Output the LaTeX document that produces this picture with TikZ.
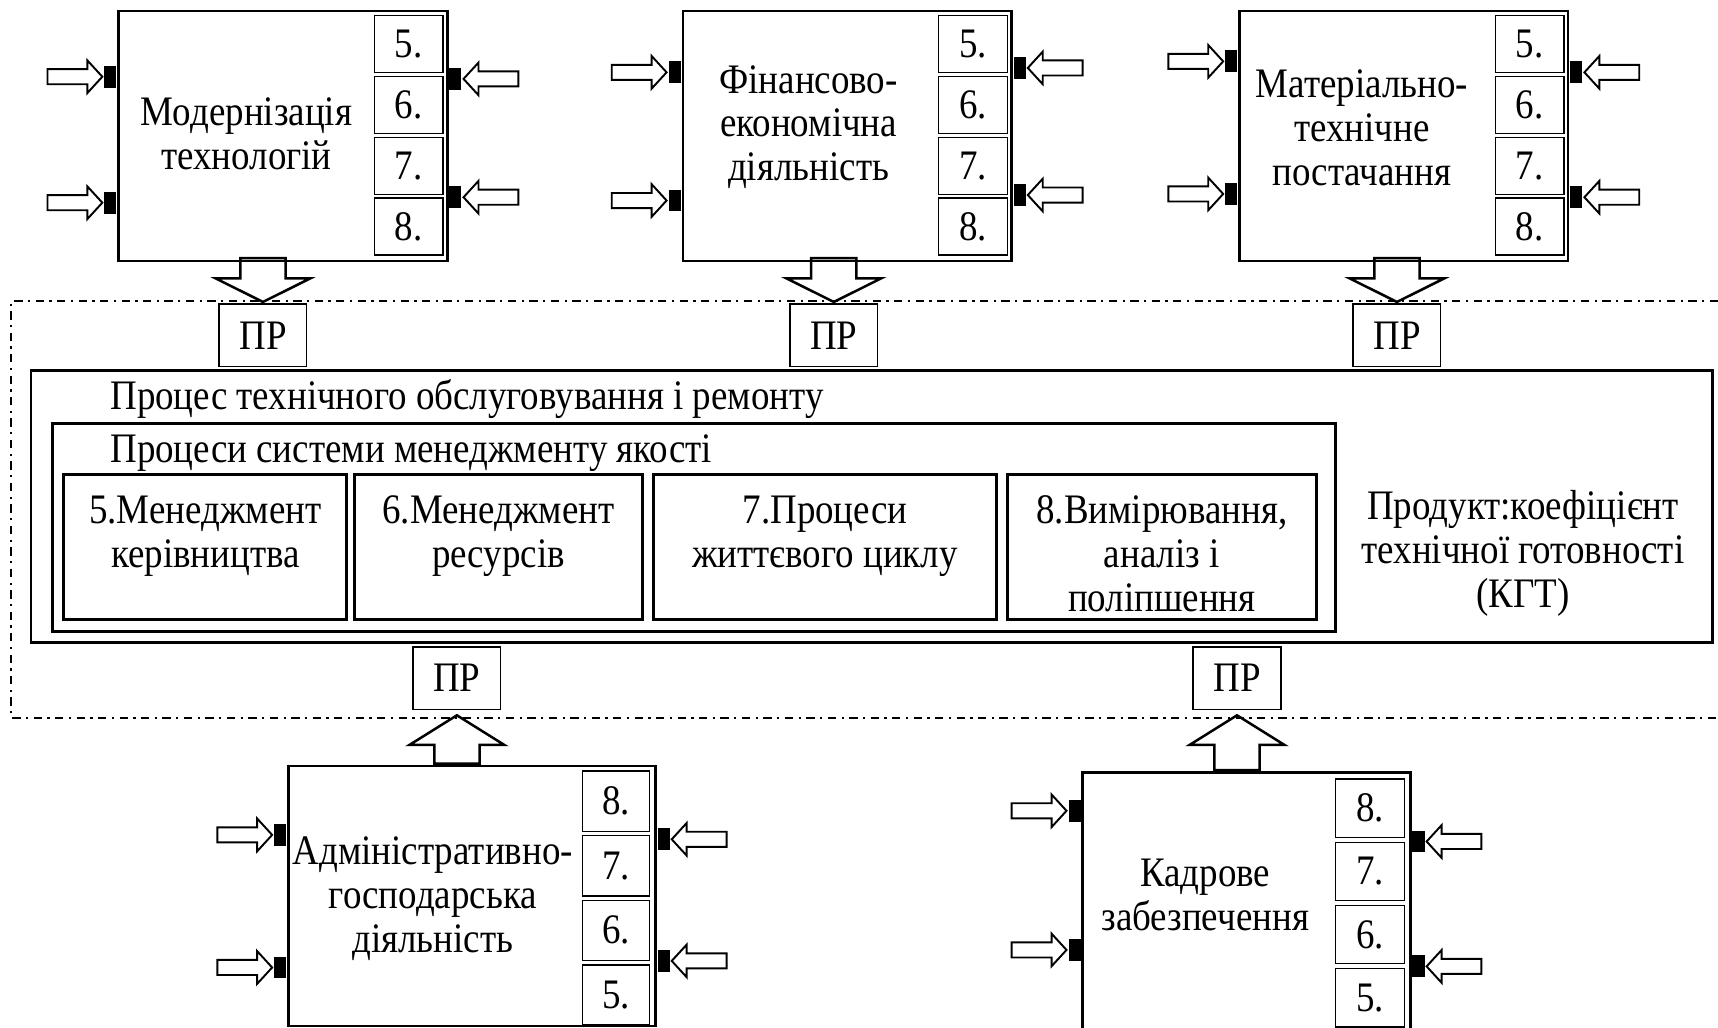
\documentclass[tikz,border=0pt]{standalone}
\usepackage{fontspec}
\setmainfont{Liberation Serif}[FakeStretch=0.88]
\usetikzlibrary{calc,positioning,shapes.arrows}
\tikzset{unitbox/.style={draw, line width=0.65pt, inner sep=0pt, anchor=north west},
  numbox/.style={draw, line width=0.35pt, inner sep=0pt, minimum width=0.625cm, minimum height=0.52cm, anchor=north east},
  prbox/.style={draw, line width=0.35pt, inner sep=0pt, minimum width=0.8cm, minimum height=0.57cm},
  procbox/.style={draw, line width=0.75pt, inner sep=0pt, anchor=north west},
  tab/.style={fill=black, inner sep=0pt, minimum width=0.11cm, minimum height=0.2cm},
  inarrow/.style={single arrow, draw, line width=0.5pt, inner xsep=0pt, inner ysep=0.06cm, minimum height=0.5cm,
    single arrow head extend=0.08cm, single arrow head indent=0pt, single arrow tip angle=95},
  bigarrow/.style={single arrow, draw, line width=0.65pt, inner xsep=0pt, inner ysep=0.195cm, minimum height=0.4cm,
    single arrow head extend=0.225cm, single arrow head indent=0pt, single arrow tip angle=127},
  lbl/.style={align=center, inner sep=0pt}}

\begin{document}
\begin{tikzpicture}[x=0.01cm, y=-0.01cm, font=\fontsize{10.9}{11.4}\selectfont]
  \path[use as bounding box, clip] (0,0) rectangle (1568,938);
  % zone of the process
  \draw[line width=0.6pt, dash pattern=on 2.16pt off 1.42pt on 0.57pt off 1.42pt]
    (1568,275) -- (10,275) -- (10,655) -- (1568,655);
  % top units
  \node[unitbox, minimum width=3cm, minimum height=2.28cm] (mod) at (107,9) {};
  \node[unitbox, minimum width=3cm, minimum height=2.28cm] (fin) at (622,9) {};
  \node[unitbox, minimum width=3cm, minimum height=2.28cm] (mat) at (1130,9) {};
  \node[lbl] (modt) at (225,122) {Модернізація\\технологій};
  \node[lbl] (fint) at (738,116) {Фінансово-\\економічна\\діяльність};
  \node[lbl] (matt) at (1243,117) {Матеріально-\\технічне\\постачання};
  \foreach \u in {mod,fin,mat}{
    \foreach \n [count=\k from 0] in {5,6,7,8}
      \node[numbox] (\u\n) at ($(\u.north east)+(-4.5,4.7+55.5*\k)$) {\n.};
  }
  % bottom units
  \node[unitbox, minimum width=3.35cm, minimum height=2.37cm] (adm) at (262,698) {};
  \node[unitbox, minimum width=2.99cm, minimum height=2.5cm] (kad) at (987,704) {};
  \node[lbl] (admt) at (395,820) {Адміністративно-\\господарська\\діяльність};
  \node[lbl] (kadt) at (1100,817) {Кадрове\\забезпечення};
  \foreach \n [count=\k from 0] in {8,7,6,5}{
    \node[numbox, minimum width=0.61cm, minimum height=0.55cm] (adm\n) at ($(adm.north east)+(-6,5+59*\k)$) {\n.};
    \node[numbox, minimum width=0.63cm, minimum height=0.53cm] (kad\n) at ($(kad.north east)+(-6,6.5+57.7*\k)$) {\n.};
  }
  % inputs: tab + hollow arrow
  \foreach \u/\a/\b/\c/\d in {mod/61/176/63/171, fin/57/174/53/169, mat/47/168/57/171,
      adm/64/185/68/179, kad/36/163/64/178}{
    \node[tab, anchor=east] (\u-l1) at ($(\u.north west)+(0,\a)$) {};
    \node[tab, anchor=east] (\u-l2) at ($(\u.north west)+(0,\b)$) {};
    \node[tab, anchor=west] (\u-r1) at ($(\u.north east)+(0,\c)$) {};
    \node[tab, anchor=west] (\u-r2) at ($(\u.north east)+(0,\d)$) {};
    \node[inarrow, anchor=tip] at (\u-l1.west) {};
    \node[inarrow, anchor=tip] at (\u-l2.west) {};
    \node[inarrow, rotate=180, anchor=tip] at (\u-r1.east) {};
    \node[inarrow, rotate=180, anchor=tip] at (\u-r2.east) {};
  }
  % process of maintenance
  \node[procbox, minimum width=15.34cm, minimum height=2.48cm] (proc) at (27,337) {};
  \node[anchor=base west, inner sep=0pt] (proct) at (100,374) {Процес технічного обслуговування і ремонту};
  \node[procbox, minimum width=11.70cm, minimum height=1.90cm] (qms) at (47,385) {};
  \node[anchor=base west, inner sep=0pt] (qmst) at (100,422) {Процеси системи менеджменту якості};
  \foreach \n/\x/\w/\t in {5/57/2.58/{5.Менеджмент\\керівництва}, 6/322/2.63/{6.Менеджмент\\ресурсів},
      7/595/3.13/{7.Процеси\\життєвого циклу}, 8/918/2.82/{8.Вимірювання,\\аналіз і\\поліпшення}}{
    \node[procbox, minimum width=\w cm, minimum height=1.32cm] (qp\n) at (\x,432) {};
    \node[lbl, anchor=north] (qp\n t) at ($(qp\n.north)+(0,20)$) {\t};
  }
  \node[lbl] (prod) at (1390,505) {Продукт:коефіцієнт\\технічної готовності\\(КГТ)};
  % results
  \node[prbox] (prmod) at (240,306) {ПР};
  \node[prbox] (prfin) at (761,306) {ПР};
  \node[prbox] (prmat) at (1275,306) {ПР};
  \node[prbox] (pradm) at (417,619) {ПР};
  \node[prbox] (prkad) at (1129,619) {ПР};
  \foreach \p in {prmod,prfin,prmat}
    \node[bigarrow, rotate=-90, anchor=tip] at (\p.north) {};
  \node[bigarrow, rotate=90, anchor=tail, minimum height=0.44cm, single arrow tip angle=116] at (adm.north -| pradm.south) {};
  \node[bigarrow, rotate=90, anchor=tail, minimum height=0.5cm, single arrow tip angle=116] at (kad.north -| prkad.south) {};
\end{tikzpicture}
\end{document}
